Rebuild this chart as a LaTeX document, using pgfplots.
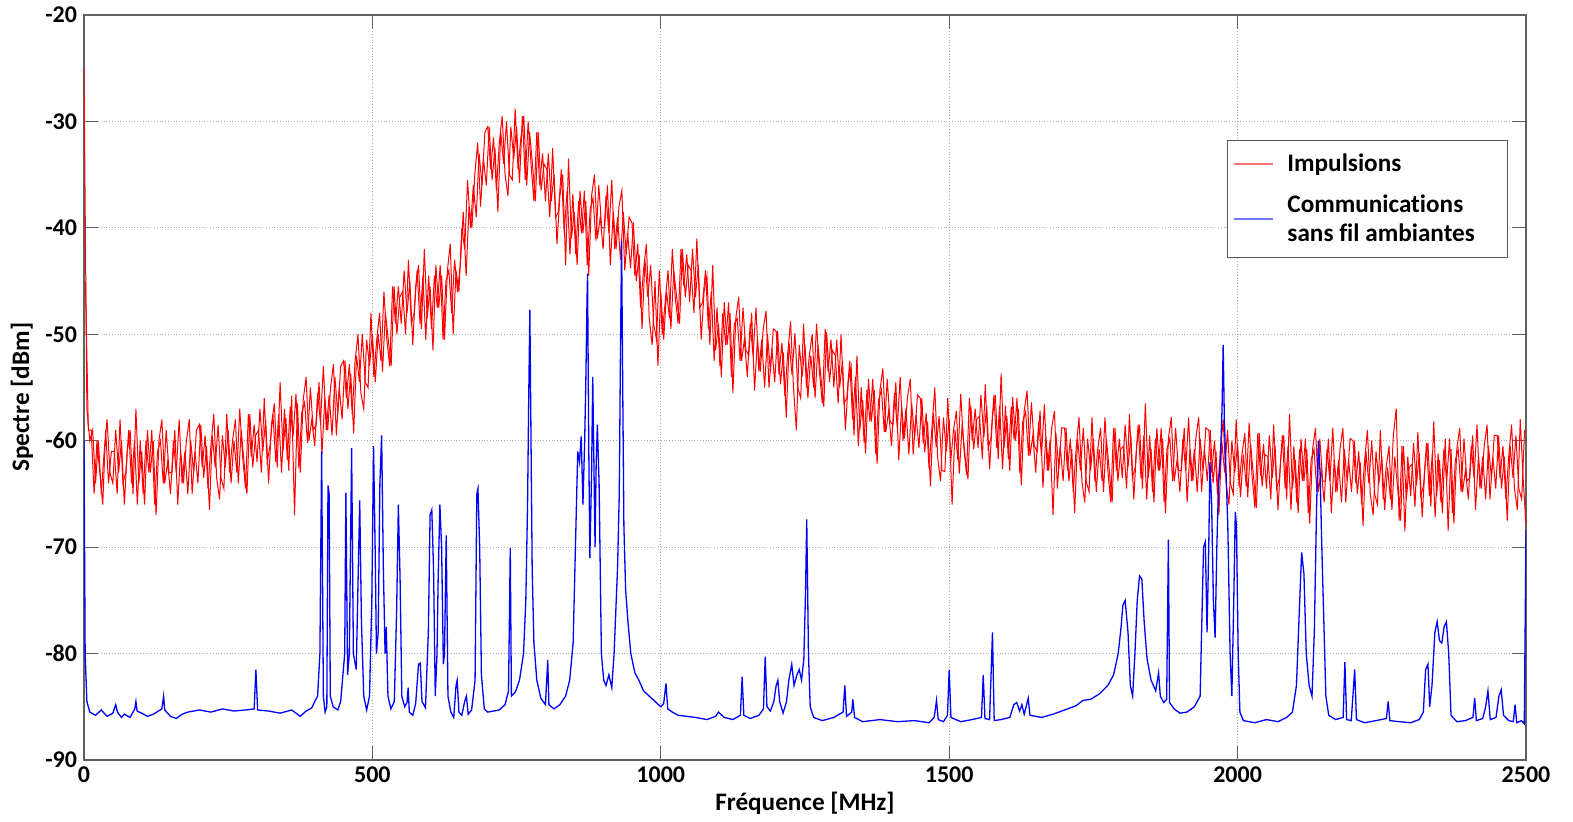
\documentclass[border=0pt]{standalone}
\usepackage{fontspec}
\setmainfont{Carlito}[Ligatures=NoCommon]
\usepackage{pgfplots}
\pgfplotsset{compat=1.18}
\usepackage{pgfplotstable}

% Impulsions, samples at 0, 5, 10, ... 2500 MHz
\pgfplotstableread[row sep=\\, header=false]{
-25\\ -57\\ -60\\ -59\\ -64\\ -60\\ -65\\ -61\\ -58\\ -63\\
-64\\ -59\\ -63\\ -60\\ -66\\ -61\\ -59\\ -65\\ -57\\ -64\\
-61\\ -66\\ -59\\ -63\\ -60\\ -67\\ -60\\ -58\\ -64\\ -62\\
-65\\ -60\\ -63\\ -58\\ -64\\ -61\\ -65\\ -60\\ -63\\ -59\\
-58.5\\ -62.5\\ -59.5\\ -64.5\\ -60.5\\ -57.5\\ -63.5\\ -65.5\\ -59.5\\ -62.5\\
-59\\ -64\\ -60\\ -63\\ -57\\ -61.5\\ -64.5\\ -57.5\\ -61.5\\ -58.5\\
-62\\ -57\\ -61\\ -58\\ -64\\ -58.5\\ -56.5\\ -62.5\\ -54.5\\ -61\\
-57.8\\ -62.8\\ -55.8\\ -67\\ -56.5\\ -63\\ -56.2\\ -54\\ -60\\ -58\\
-60.5\\ -55.5\\ -58.3\\ -53\\ -59\\ -55.7\\ -59.5\\ -54\\ -57.5\\ -53\\
-52.5\\ -56\\ -52.8\\ -57.5\\ -52.5\\ -50\\ -55.5\\ -57\\ -50.5\\ -53\\
-50\\ -54.5\\ -50\\ -52.5\\ -46\\ -50.5\\ -53\\ -45.5\\ -49\\ -45.5\\
-49\\ -44\\ -48\\ -45\\ -51\\ -45.5\\ -43.5\\ -49.5\\ -42\\ -48.5\\
-45.5\\ -51.5\\ -43.5\\ -47.5\\ -44.5\\ -50.5\\ -44\\ -41.5\\ -50\\ -44\\
-46\\ -40\\ -42\\ -35.5\\ -40\\ -36\\ -39\\ -33\\ -36\\ -31\\
-30.5\\ -34.5\\ -31.5\\ -36.5\\ -32\\ -29.5\\ -35\\ -37\\ -30.5\\ -33.5\\
-30.5\\ -35.8\\ -29.5\\ -35.5\\ -30\\ -34\\ -37.5\\ -31\\ -36\\ -33\\
-37.5\\ -33\\ -37.5\\ -35\\ -41.5\\ -37\\ -35\\ -43.5\\ -33.5\\ -41\\
-38.5\\ -43.5\\ -36.5\\ -40.5\\ -37.5\\ -44.5\\ -37\\ -35\\ -41\\ -39\\
-42\\ -37\\ -40.5\\ -35.5\\ -42\\ -39\\ -43\\ -38.5\\ -42.5\\ -39\\
-39.5\\ -44.5\\ -41.5\\ -47.5\\ -44\\ -41.5\\ -48.5\\ -51\\ -45\\ -53\\
-46\\ -50.5\\ -46\\ -48.5\\ -42\\ -46.5\\ -49\\ -42\\ -45.5\\ -42.5\\
-47\\ -42\\ -46.5\\ -43.5\\ -50.5\\ -46\\ -44.5\\ -51\\ -43.5\\ -51.5\\
-49\\ -54\\ -47\\ -51\\ -48\\ -55.5\\ -48.5\\ -46.5\\ -52.5\\ -50.5\\
-54\\ -49\\ -52\\ -47.5\\ -53.5\\ -50.5\\ -55\\ -50\\ -53.5\\ -49.5\\
-49.7\\ -53.8\\ -50.8\\ -55.8\\ -51.8\\ -48.8\\ -55\\ -59\\ -51\\ -54\\
-51\\ -56\\ -52\\ -55\\ -49\\ -53.5\\ -56.5\\ -49.5\\ -53.5\\ -50.5\\
-55\\ -50.5\\ -55\\ -52.5\\ -59\\ -54.5\\ -53\\ -59.5\\ -52\\ -59\\
-56.2\\ -61.2\\ -54.2\\ -58.2\\ -55.2\\ -62.2\\ -55.2\\ -53.2\\ -59.2\\ -57.2\\
-60.5\\ -55.5\\ -58.8\\ -54\\ -60\\ -57\\ -61.3\\ -56.5\\ -59.7\\ -55.7\\
-56\\ -60.2\\ -57.4\\ -62.6\\ -58.8\\ -55\\ -61.6\\ -63.8\\ -57.8\\ -61\\
-58\\ -66\\ -59\\ -61.8\\ -55.6\\ -60.4\\ -63.2\\ -56\\ -60\\ -57\\
-60.7\\ -55.7\\ -59.7\\ -56.7\\ -62.7\\ -57.7\\ -55.7\\ -61.7\\ -53.7\\ -60.7\\
-57.7\\ -62.8\\ -55.9\\ -60\\ -57\\ -64.2\\ -57.2\\ -55.3\\ -61.4\\ -59.5\\
-63\\ -58.2\\ -61.4\\ -56.6\\ -62.8\\ -59.9\\ -67\\ -59.3\\ -62.6\\ -58.8\\
-58.8\\ -62.8\\ -59.8\\ -64.8\\ -60.8\\ -57.8\\ -63.8\\ -65.8\\ -59.8\\ -62.8\\
-59.8\\ -64.8\\ -60.8\\ -63.8\\ -57.8\\ -62.8\\ -65.8\\ -58.8\\ -62.8\\ -59.8\\
-63.5\\ -58.5\\ -62.5\\ -59.5\\ -65.5\\ -60.5\\ -58.5\\ -64.5\\ -56.5\\ -63.5\\
-60.8\\ -65.8\\ -58.8\\ -62.8\\ -59.8\\ -66.8\\ -59.8\\ -57.8\\ -63.8\\ -61.8\\
-64.8\\ -59.8\\ -62.8\\ -57.8\\ -63.8\\ -60.8\\ -64.8\\ -59.8\\ -62.8\\ -58.8\\
-59\\ -63\\ -60\\ -65\\ -61\\ -58\\ -64\\ -66\\ -60\\ -63\\
-60.3\\ -65.3\\ -61.3\\ -64.3\\ -58.3\\ -63.3\\ -66.3\\ -59.3\\ -63.3\\ -60.3\\
-64.5\\ -59.5\\ -63.5\\ -60.5\\ -66.5\\ -61.5\\ -59.5\\ -65.5\\ -57.5\\ -64.5\\
-61.8\\ -66.8\\ -59.8\\ -63.8\\ -60.8\\ -67.8\\ -60.8\\ -58.8\\ -64.8\\ -62.8\\
-65.8\\ -60.8\\ -63.8\\ -58.8\\ -64.8\\ -61.8\\ -65.8\\ -60.8\\ -63.8\\ -59.8\\
-60\\ -64\\ -61\\ -66\\ -62\\ -59\\ -65\\ -67\\ -61\\ -64\\
-61.5\\ -66.5\\ -62.5\\ -65.5\\ -59.5\\ -57\\ -67.5\\ -60.5\\ -68.5\\ -61.5\\
-65.2\\ -60.2\\ -64.2\\ -61.2\\ -67.2\\ -62.2\\ -60.2\\ -66.2\\ -58.2\\ -65.2\\
-61.8\\ -66.8\\ -59.8\\ -68.5\\ -60.8\\ -67.8\\ -60.8\\ -58.8\\ -64.8\\ -62.8\\
-65.5\\ -60.5\\ -63.5\\ -58.5\\ -64.5\\ -61.5\\ -65.5\\ -60.5\\ -63.5\\ -59.5\\
-59.5\\ -63.5\\ -60.5\\ -65.5\\ -61.5\\ -58.5\\ -64.5\\ -66.5\\ -58\\ -63.5\\
-68\\
}\impulsionsA

% Impulsions, samples at 2.5, 7.5, ... 2497.5 MHz
\pgfplotstableread[row sep=\\, header=false]{
-45\\ -59\\ -59\\ -65\\ -60\\ -63\\ -66\\ -59\\ -64\\ -61\\
-61\\ -65\\ -58\\ -64\\ -63\\ -59\\ -64\\ -60\\ -66\\ -60\\
-65\\ -60\\ -63\\ -59\\ -66\\ -61\\ -60\\ -64\\ -59\\ -63\\
-63\\ -59\\ -66\\ -61\\ -64\\ -60\\ -58\\ -65\\ -61\\ -64\\
-58.5\\ -63.5\\ -60.5\\ -66.5\\ -59.5\\ -62.5\\ -58.5\\ -63.5\\ -64.5\\ -57.5\\
-63\\ -60\\ -58\\ -64\\ -59\\ -62\\ -65\\ -57.5\\ -62.5\\ -59.5\\
-59\\ -63\\ -56\\ -62\\ -60.5\\ -57.5\\ -62\\ -57.5\\ -63\\ -57\\
-61.8\\ -56.8\\ -59.6\\ -55.6\\ -62.6\\ -57.4\\ -56.4\\ -60.2\\ -55\\ -59\\
-58.5\\ -54.5\\ -61.3\\ -56\\ -59\\ -55\\ -52.8\\ -59.5\\ -55\\ -58\\
-52.5\\ -57\\ -53.7\\ -59.3\\ -52\\ -54.5\\ -50\\ -54.5\\ -55\\ -48\\
-54\\ -50.5\\ -48\\ -53.5\\ -48\\ -50.5\\ -53\\ -45.5\\ -50\\ -46.5\\
-46\\ -50\\ -43\\ -49\\ -48\\ -44\\ -49\\ -44.5\\ -50.5\\ -44.5\\
-49.5\\ -44.5\\ -47.5\\ -43.5\\ -50.5\\ -45\\ -44\\ -48\\ -43\\ -46\\
-43.5\\ -38.5\\ -44.5\\ -38\\ -40\\ -35\\ -32\\ -38\\ -33.5\\ -36\\
-30.5\\ -35.5\\ -32.5\\ -38.5\\ -31\\ -34\\ -30\\ -35\\ -35.5\\ -28.8\\
-34.5\\ -31.5\\ -29.5\\ -36\\ -31\\ -34\\ -37.5\\ -31\\ -36.5\\ -34\\
-34.5\\ -39\\ -32.5\\ -39\\ -38.5\\ -34.5\\ -40.5\\ -36.5\\ -42.5\\ -36.8\\
-42.5\\ -37.5\\ -40.5\\ -36.5\\ -43.5\\ -38.3\\ -37.2\\ -41.2\\ -36\\ -40\\
-40\\ -36\\ -43.5\\ -38.5\\ -42\\ -38\\ -36.5\\ -44\\ -40.5\\ -43.8\\
-39.5\\ -45\\ -42.5\\ -49.5\\ -43\\ -46.5\\ -43.5\\ -49\\ -50.5\\ -44\\
-50\\ -47\\ -44\\ -49.5\\ -44\\ -46.5\\ -49\\ -42\\ -46.5\\ -43.5\\
-44\\ -48\\ -41\\ -47.5\\ -47\\ -44\\ -49.5\\ -46\\ -52.5\\ -47.5\\
-53\\ -48\\ -51\\ -47\\ -54\\ -49\\ -48.5\\ -52.5\\ -47.5\\ -51.5\\
-52\\ -48\\ -55.3\\ -50.5\\ -53.5\\ -49.5\\ -47.8\\ -55\\ -51.3\\ -54.5\\
-49.7\\ -54.7\\ -51.7\\ -57.8\\ -50.8\\ -53.8\\ -49.9\\ -55\\ -56\\ -49\\
-55\\ -52\\ -50\\ -56\\ -51\\ -54\\ -56.8\\ -49.8\\ -54.5\\ -51.5\\
-52\\ -56.5\\ -50\\ -56.5\\ -56\\ -52.5\\ -58\\ -54\\ -60.5\\ -55\\
-60.2\\ -55.2\\ -58.2\\ -54.2\\ -61.2\\ -56.2\\ -55.2\\ -59.2\\ -54.2\\ -58.2\\
-58.5\\ -54.5\\ -61.8\\ -56.8\\ -59.8\\ -56\\ -54.2\\ -61.3\\ -57.6\\ -60.7\\
-56\\ -61.1\\ -58.2\\ -64.3\\ -57.4\\ -60.6\\ -57.7\\ -62.8\\ -62.9\\ -56\\
-62\\ -59\\ -57.2\\ -63.1\\ -58.4\\ -61.5\\ -63.6\\ -56.7\\ -60.8\\ -58\\
-57.7\\ -61.7\\ -54.7\\ -60.7\\ -59.7\\ -55.7\\ -60.7\\ -56.7\\ -62.7\\ -56.7\\
-61.7\\ -56.8\\ -59.9\\ -56\\ -63.1\\ -58.2\\ -57.3\\ -61.4\\ -56.4\\ -60.5\\
-61\\ -57.2\\ -64.4\\ -59.6\\ -62.8\\ -58.9\\ -57.2\\ -64.5\\ -60.5\\ -63.8\\
-58.8\\ -63.8\\ -60.8\\ -66.8\\ -59.8\\ -62.8\\ -58.8\\ -63.8\\ -64.8\\ -57.8\\
-63.8\\ -60.8\\ -58.8\\ -64.8\\ -59.8\\ -62.8\\ -65.8\\ -58.8\\ -63.8\\ -60.8\\
-60.5\\ -64.5\\ -57.5\\ -63.5\\ -62.5\\ -58.5\\ -63.5\\ -59.5\\ -65.5\\ -59.5\\
-64.8\\ -59.8\\ -62.8\\ -58.8\\ -65.8\\ -60.8\\ -59.8\\ -63.8\\ -58.8\\ -62.8\\
-62.8\\ -58.8\\ -65.8\\ -60.8\\ -63.8\\ -59.8\\ -57.8\\ -64.8\\ -60.8\\ -63.8\\
-59\\ -64\\ -61\\ -67\\ -60\\ -63\\ -59\\ -64\\ -65\\ -58\\
-64.3\\ -61.3\\ -59.3\\ -65.3\\ -60.3\\ -63.3\\ -66.3\\ -59.3\\ -64.3\\ -61.3\\
-61.5\\ -65.5\\ -58.5\\ -64.5\\ -63.5\\ -59.5\\ -64.5\\ -60.5\\ -66.5\\ -60.5\\
-65.8\\ -60.8\\ -63.8\\ -59.8\\ -66.8\\ -61.8\\ -60.8\\ -64.8\\ -59.8\\ -63.8\\
-63.8\\ -59.8\\ -66.8\\ -61.8\\ -64.8\\ -60.8\\ -58.8\\ -65.8\\ -61.8\\ -64.8\\
-60\\ -65\\ -62\\ -68\\ -61\\ -64\\ -60\\ -65\\ -66\\ -59\\
-65.5\\ -62.5\\ -60.5\\ -66.5\\ -61.5\\ -64.5\\ -67.5\\ -60.5\\ -65.5\\ -62.5\\
-62.2\\ -66.2\\ -59.2\\ -65.2\\ -64.2\\ -60.2\\ -65.2\\ -61.2\\ -67.2\\ -61.2\\
-65.8\\ -60.8\\ -63.8\\ -59.8\\ -66.8\\ -61.8\\ -60.8\\ -64.8\\ -59.8\\ -63.8\\
-63.5\\ -59.5\\ -66.5\\ -61.5\\ -64.5\\ -60.5\\ -58.5\\ -65.5\\ -61.5\\ -64.5\\
-59.5\\ -64.5\\ -61.5\\ -67.5\\ -60.5\\ -63.5\\ -59.5\\ -64.5\\ -65.5\\ -59\\
}\impulsionsB

\begin{document}
\begin{tikzpicture}
\begin{axis}[
  name=ax,
  scale only axis,
  width=721pt, height=372.5pt,
  xmin=0, xmax=2500, ymin=-90, ymax=-20,
  xtick={0,500,1000,1500,2000,2500},
  ytick={-90,-80,-70,-60,-50,-40,-30,-20},
  grid=major,
  grid style={densely dotted, gray!65, line width=0.5pt},
  axis line style={gray!75!black, line width=0.6pt},
  tick style={gray!75!black, line width=0.6pt},
  major tick length=7pt,
  tick align=inside,
  xtick pos=both, ytick pos=both,
  /pgf/number format/assume math mode=true,
  /pgf/number format/1000 sep={},
  ticklabel style={font=\fontsize{12}{14}\selectfont\bfseries},
  label style={font=\fontsize{12.6}{15}\selectfont\bfseries},
  xlabel={Fréquence [MHz]},
  ylabel={Spectre [dBm]},
  xlabel style={at={(axis description cs:0.5,0)}, anchor=center, yshift=-21.5pt},
  ylabel style={at={(axis description cs:-0.043,0.487)}, anchor=center},
  legend style={at={(0.9875,0.832)}, anchor=north east,
    draw=gray!70!black, line width=0.5pt,
    font=\fontsize{12.6}{14.5}\selectfont\bfseries,
    inner xsep=3pt, inner ysep=4.5pt, row sep=6pt, column sep=5pt},
  legend cell align=left,
  legend image code/.code={\draw[#1, line width=0.7pt, opacity=0.55] (0pt,0pt) -- (19.5pt,0pt);},
]
\addplot[red, line width=0.5pt] table[x expr=\coordindex*5, y index=0] {\impulsionsA};
\addlegendentry{Impulsions}
\addplot[red, line width=0.5pt, forget plot] table[x expr=2.5+\coordindex*5, y index=0] {\impulsionsB};
\addplot[blue, line width=0.65pt] coordinates {
(0,-60) (2,-80) (5,-84.5) (10,-85.5) (20,-85.8) (30,-85.3) (40,-85.9) (50,-85.6) (55,-84.8) (58,-85.5)
(65,-86) (70,-85.7) (80,-86) (88,-85.2) (90,-84.5) (92,-85.4) (100,-85.6) (110,-85.9) (120,-85.7) (135,-85.2)
(138,-84) (140,-85.3) (150,-85.9) (160,-86.1) (170,-85.7) (180,-85.5) (200,-85.3) (220,-85.5) (240,-85.2) (260,-85.4)
(280,-85.3) (295,-85.2) (298,-81.5) (301,-85.3) (320,-85.4) (340,-85.6) (360,-85.3) (375,-85.9) (385,-85.4) (395,-85.1)
(400,-84.5) (405,-84) (409,-80) (412,-61) (415,-84) (418,-85.5) (421,-85) (423,-64.2) (425,-65) (427,-84)
(432,-85) (440,-85.3) (445,-84.5) (452,-80) (454,-64.9) (457,-82) (460,-80) (464,-60.7) (467,-80) (472,-81.5)
(478,-65.6) (481,-77) (485,-84) (490,-85.3) (495,-84) (499,-75) (502,-60.5) (505,-71) (507,-80) (510,-78)
(513,-64) (516,-59.5) (519,-72) (522,-80) (524,-77.5) (527,-84) (532,-85.2) (538,-84.5) (542,-76) (545,-66)
(548,-73) (551,-84) (556,-85) (560,-84.6) (562,-83.2) (564,-85.5) (570,-85.8) (575,-84.7) (580,-81) (583,-80.9)
(586,-84.5) (592,-85.1) (597,-78) (600,-67) (603,-66.5) (606,-72) (609,-84) (612,-80) (614,-73) (617,-66)
(620,-70) (623,-81) (625,-80) (628,-68.9) (631,-84) (636,-85.5) (641,-86) (645,-83) (647,-82.5) (650,-85.5)
(655,-85.8) (660,-84.5) (663,-84) (666,-85.7) (672,-85.3) (678,-82.5) (681,-65) (683,-64.5) (686,-70) (689,-82)
(694,-85.2) (700,-85.5) (710,-85.4) (720,-85.3) (730,-84.8) (736,-83.5) (739,-70.1) (741,-84) (748,-83.6) (755,-82.5)
(762,-80) (766,-75) (769,-66) (771,-56) (773,-47.7) (775,-60) (777,-72) (780,-79) (785,-82.5) (792,-84.2)
(800,-84.8) (804,-80.6) (806,-84.8) (815,-85.2) (825,-84.8) (835,-84) (842,-82.5) (848,-79) (852,-70) (856,-61)
(859,-62) (862,-59.6) (865,-66) (868,-60) (870,-54.5) (872,-47) (873,-44.3) (875,-60) (877,-71) (880,-63)
(882,-54) (884,-62) (886,-70) (888,-62) (890,-58.5) (893,-64) (895,-72) (897,-80) (901,-82.5) (905,-83)
(910,-82) (915,-83.2) (919,-80) (922,-76) (925,-72) (928,-65) (930,-52) (932,-41.2) (934,-55) (936,-68)
(939,-74) (943,-77) (948,-80) (955,-81.8) (962,-82.5) (970,-83.5) (980,-84) (990,-84.5) (1000,-85) (1005,-84.7)
(1009,-82.8) (1012,-85.2) (1020,-85.5) (1030,-85.8) (1045,-85.9) (1060,-86) (1080,-86.2) (1095,-85.9) (1100,-85.5) (1110,-86)
(1125,-86.2) (1138,-85.8) (1141,-82.2) (1144,-85.8) (1155,-86.1) (1170,-85.8) (1178,-85.2) (1181,-80.3) (1184,-85) (1190,-85.4)
(1196,-84.5) (1200,-83) (1203,-82.5) (1206,-84.5) (1212,-85.6) (1218,-84.5) (1222,-82.5) (1227,-81) (1231,-83) (1236,-82)
(1240,-81.5) (1244,-82.5) (1248,-80.5) (1251,-74) (1253,-67.4) (1256,-80) (1259,-85) (1265,-86) (1280,-86.3) (1300,-86)
(1316,-85.5) (1319,-83) (1322,-85.9) (1331,-85.5) (1333,-84.3) (1336,-86) (1350,-86.4) (1380,-86.2) (1410,-86.4) (1440,-86.3)
(1465,-86.5) (1474,-86) (1478,-84.4) (1481,-86.2) (1490,-86.4) (1497,-85.8) (1500,-81.5) (1503,-86) (1520,-86.4) (1540,-86.2)
(1556,-86) (1559,-82) (1562,-86.1) (1570,-86.2) (1575,-78) (1578,-86.3) (1590,-86.2) (1605,-86) (1612,-84.8) (1617,-84.6)
(1622,-85.4) (1626,-84.8) (1630,-85.7) (1637,-84.2) (1640,-85.8) (1660,-86) (1680,-85.7) (1700,-85.3) (1720,-84.9) (1732,-84.4)
(1745,-84.3) (1760,-83.8) (1775,-83) (1785,-82) (1793,-80) (1798,-77.5) (1801,-75.5) (1805,-75) (1810,-78) (1814,-83)
(1818,-84) (1822,-80) (1826,-75) (1830,-72.7) (1834,-73) (1838,-77) (1843,-80.5) (1850,-82.5) (1858,-83.5) (1863,-81.8)
(1866,-84) (1872,-84.6) (1877,-84.3) (1880,-69.3) (1882,-84.6) (1890,-85.2) (1900,-85.6) (1912,-85.5) (1925,-85) (1935,-84)
(1938,-77) (1941,-70) (1944,-69.5) (1947,-78) (1950,-70) (1952,-62) (1955,-66) (1958,-75) (1961,-78.5) (1964,-70)
(1967,-64) (1970,-62) (1973,-57) (1975,-51) (1977,-58) (1980,-63) (1983,-68) (1987,-80) (1990,-84) (1993,-76)
(1996,-66.7) (1998,-68) (2001,-80) (2004,-85.5) (2010,-86.3) (2030,-86.5) (2050,-86.2) (2070,-86.4) (2085,-86) (2095,-85.5)
(2102,-83) (2107,-76) (2111,-70.5) (2115,-72.5) (2119,-80) (2124,-83) (2129,-84) (2133,-78) (2137,-66) (2140,-60)
(2143,-63) (2146,-70) (2149,-76) (2153,-84) (2158,-85.8) (2170,-86.2) (2183,-86) (2186,-80.8) (2189,-86.2) (2197,-86.3)
(2203,-81.5) (2206,-86.2) (2220,-86.5) (2240,-86.3) (2258,-86.1) (2261,-84.5) (2264,-86.3) (2280,-86.4) (2300,-86.5) (2315,-86.2)
(2322,-85.5) (2326,-81.5) (2330,-81) (2333,-85) (2337,-83) (2342,-78) (2346,-77) (2350,-78.8) (2354,-79) (2358,-77.5)
(2362,-77) (2366,-80) (2370,-85.8) (2380,-86.4) (2395,-86.3) (2408,-86) (2411,-84.2) (2414,-86.3) (2425,-86.1) (2430,-85)
(2434,-83.5) (2438,-86.2) (2448,-86) (2453,-84) (2457,-83.4) (2461,-85.8) (2470,-86.3) (2478,-86.4) (2481,-84.8) (2484,-86.5)
(2492,-86.3) (2497,-86.6) (2500,-68.4)
};
\addlegendentry{\parbox[b]{105pt}{Communications\\sans fil ambiantes}}
\end{axis}
\pgfresetboundingbox
\useasboundingbox ([xshift=-42pt,yshift=-31pt]ax.south west) rectangle ([xshift=23.5pt,yshift=7.5pt]ax.north east);
\end{tikzpicture}
\end{document}
